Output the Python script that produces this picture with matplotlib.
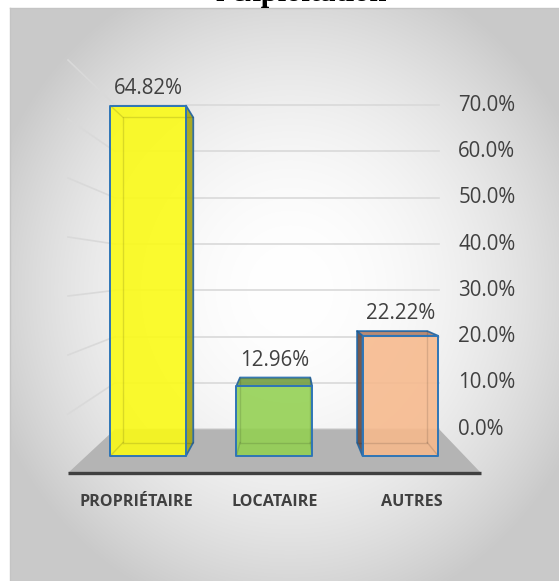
import numpy as np
import matplotlib
matplotlib.use("Agg")
import matplotlib.pyplot as plt
from matplotlib.patches import Polygon

# --- chart data ---
categories = ["PROPRIÉTAIRE", "LOCATAIRE", "AUTRES"]
values = [64.82, 12.96, 22.22]
value_labels = ["64.82%", "12.96%", "22.22%"]
y_ticks = [0, 10, 20, 30, 40, 50, 60, 70]
y_tick_labels = ["0.0%", "10.0%", "20.0%", "30.0%", "40.0%", "50.0%", "60.0%", "70.0%"]
title = "l'exploitation"

# --- style ---
front_colors = ["#fbfb12", "#92d050", "#f7b98c"]
side_colors = ["#a4a414", "#6f9a45", "#6b4c40"]
top_colors = ["#c8c820", "#76a046", "#b3826a"]
edge_blue = "#2e75b6"
text_gray = "#404040"
grid_gray = "#d9d9d9"

W, H = 559, 581
# front plane: pixel x = X0 + SX * category, pixel y = Y0 - SY * percent
X0, SX = 68.0, 137.67
Y0, SY = 473.0, 5.9
# vanishing point (pixels) -> data units
CV = (286.5 - X0) / SX
PV = (Y0 - 269.7) / SY
K_BAR_FRONT = 0.916
K_BAR_BACK = 0.85
K_WALL = 0.785
BAR_W = 0.6
BAR_C = 0.49


def proj(c, p, k):
    """perspective: shrink a front-plane point toward the vanishing point"""
    return CV + k * (c - CV), PV + k * (p - PV)


def px(x, y):
    return (x - X0) / SX, (Y0 - y) / SY


fig = plt.figure(figsize=(W / 100, H / 100), dpi=100)
ax = fig.add_axes([0, 0, 1, 1])
ax.set_xlim(-X0 / SX, (W - X0) / SX)
ax.set_ylim((Y0 - H) / SY, Y0 / SY)
ax.axis("off")

# background: radial grey gradient inside the chart area
yy, xx = np.mgrid[0:H, 0:W]
r2 = ((xx - 290) / 300.0) ** 2 + ((yy - 290) / 320.0) ** 2
shade = np.clip(1 - 0.19 * r2, 0.79, 1.0)
shade[(xx < 10) | (yy < 8)] = 1.0
img = np.dstack([shade, shade, shade])
x_lo, y_top = px(0, 0)
x_hi, y_bot = px(W, H)
ax.imshow(img, extent=[x_lo, x_hi, y_bot, y_top], aspect="auto", zorder=0, interpolation="bilinear")
bx0, by0 = px(10, 8)
bx1, by1 = px(W, H)
ax.plot([bx0, bx1], [by0, by0], color="#c4c4c4", lw=1, zorder=1)
ax.plot([bx0, bx0], [by0, by1], color="#c4c4c4", lw=1, zorder=1)

n = len(categories)

# gridlines: back wall and left side wall
for p in y_ticks:
    a = proj(0, p, K_WALL)
    b = proj(n, p, K_WALL)
    ax.plot([a[0], b[0]], [a[1], b[1]], color=grid_gray, lw=1.2, zorder=2)
    if p > 0:
        f = proj(0, p, 1.0)
        ax.plot([f[0], a[0]], [f[1], a[1]], color=grid_gray, lw=1.2, zorder=2)

# floor
floor = [proj(0, 0, 1.0), proj(n, 0, 1.0), proj(n, 0, K_WALL), proj(0, 0, K_WALL)]
ax.add_patch(Polygon(floor, closed=True, facecolor="#b4b4b4", edgecolor="none", zorder=3))
fl, fr = proj(0, 0, 1.0), proj(n, 0, 1.0)
ax.plot([fl[0], fr[0]], [fl[1], fr[1]], color=text_gray, lw=2.4, solid_capstyle="butt", zorder=4)

# bars
for i, v in enumerate(values):
    c0 = i + BAR_C - BAR_W / 2
    c1 = i + BAR_C + BAR_W / 2

    def f(c, p):
        return proj(c, p, K_BAR_FRONT)

    def b(c, p):
        return proj(c, p, K_BAR_BACK)

    faces = []
    if v < PV:
        faces.append(([f(c0, v), f(c1, v), b(c1, v), b(c0, v)], top_colors[i]))
    if c1 < CV:
        faces.append(([f(c1, 0), f(c1, v), b(c1, v), b(c1, 0)], side_colors[i]))
    if c0 > CV:
        faces.append(([f(c0, 0), f(c0, v), b(c0, v), b(c0, 0)], side_colors[i]))
    for pts, col in faces:
        ax.add_patch(Polygon(pts, closed=True, facecolor=col, edgecolor=edge_blue,
                             lw=1.3, alpha=0.92, zorder=5, joinstyle="round"))
    front = [f(c0, 0), f(c1, 0), f(c1, v), f(c0, v)]
    ax.add_patch(Polygon(front, closed=True, facecolor=front_colors[i], edgecolor="none",
                         alpha=0.88, zorder=6))

    # hidden edges seen through the translucent bar
    back = [b(c0, 0), b(c1, 0), b(c1, v), b(c0, v), b(c0, 0)]
    ax.plot([q[0] for q in back], [q[1] for q in back], color="#000000", alpha=0.12, lw=1, zorder=7)
    for cc, pp in [(c0, 0), (c1, 0), (c0, v), (c1, v)]:
        q1, q2 = f(cc, pp), b(cc, pp)
        ax.plot([q1[0], q2[0]], [q1[1], q2[1]], color="#000000", alpha=0.12, lw=1, zorder=7)

    ax.add_patch(Polygon(front, closed=True, facecolor="none", edgecolor=edge_blue,
                         lw=1.4, zorder=8, joinstyle="round"))

    # value label above the highest visible point of the bar
    top_f = f(i + BAR_C, v)
    top_b = b(i + BAR_C, v)
    ax.annotate(value_labels[i], (top_f[0], max(top_f[1], top_b[1])),
                xytext=(0, 17.5), textcoords="offset pixels", ha="center", va="center",
                fontsize=14.8, family="Open Sans", color=text_gray, zorder=9)

    # category label under the floor
    base = proj(i + 0.5, 0, 1.0)
    ax.annotate(categories[i], base, xytext=(0, -29), textcoords="offset pixels",
                ha="center", va="center", fontsize=11.6, family="Open Sans",
                fontweight="bold", color=text_gray, zorder=9)

# value axis labels on the right of the back wall
for p, lab in zip(y_ticks, y_tick_labels):
    q = proj(n, p, K_WALL)
    ax.annotate(lab, q, xytext=(19, 0), textcoords="offset pixels", ha="left", va="center",
                fontsize=14.8, family="Open Sans", color=text_gray, zorder=9)

# title (only its lower edge is inside the picture)
fig.text(301 / W, 1 - 1 / H, title, ha="center", va="baseline", fontsize=22,
         family="Liberation Serif", fontweight="bold", color="#000000")

fig.savefig("out.png", dpi=100)
